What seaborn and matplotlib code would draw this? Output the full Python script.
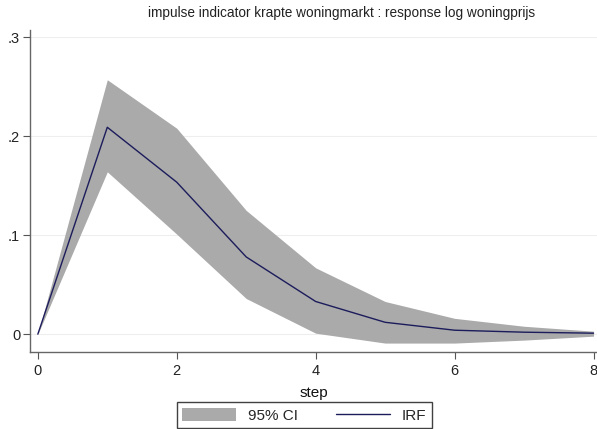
import matplotlib
matplotlib.use("Agg")
import matplotlib.pyplot as plt
import seaborn as sns
import pandas as pd
from matplotlib.patches import Patch
from matplotlib.lines import Line2D

steps = [0, 1, 2, 3, 4, 5, 6, 7, 8]
irf = [0.0, 0.209, 0.1535, 0.078, 0.033, 0.012, 0.004, 0.002, 0.001]
upper = [0.0, 0.257, 0.208, 0.125, 0.067, 0.033, 0.016, 0.008, 0.003]
lower = [0.0, 0.164, 0.101, 0.036, 0.001, -0.009, -0.009, -0.006, -0.002]
yticks = [0, 0.1, 0.2, 0.3]
ytick_labels = ["0", ".1", ".2", ".3"]
xticks = [0, 2, 4, 6, 8]

df = pd.DataFrame({"step": steps, "irf": irf, "upper": upper, "lower": lower})

sns.set_style("white")
plt.rcParams["font.family"] = ["Liberation Sans", "DejaVu Sans"]

fig = plt.figure(figsize=(5.97, 4.29), dpi=100)
ax = fig.add_axes([0.050, 0.1795, 0.95, 0.75])

ax.fill_between(df["step"], df["lower"], df["upper"], color="#aaaaaa", linewidth=0, zorder=2)
sns.lineplot(data=df, x="step", y="irf", ax=ax, color="#1c1c5c", linewidth=1.0, zorder=3)

ax.set_xlim(-0.115, 8.05)
ax.set_ylim(-0.018, 0.307)
ax.set_yticks(yticks)
ax.set_yticklabels(ytick_labels)
ax.set_xticks(xticks)
for y in yticks:
    ax.axhline(y, color="#eeeeee", linewidth=0.8, zorder=1)

ax.tick_params(axis="both", which="both", length=5, width=0.8, color="#555555",
               labelsize=10.5, labelcolor="#222222", direction="out", left=True, bottom=True)
ax.tick_params(axis="y", pad=2)
for side in ["top", "right"]:
    ax.spines[side].set_visible(False)
for side in ["left", "bottom"]:
    ax.spines[side].set_color("#666666")
    ax.spines[side].set_linewidth(1.0)

ax.set_xlabel("step", fontsize=11, color="#111111", labelpad=6)
ax.set_ylabel("")
fig.suptitle("impulse indicator krapte woningmarkt : response log woningprijs",
             x=0.572, y=0.985, fontsize=9.8, color="#222222")

handles = [Patch(facecolor="#aaaaaa", edgecolor="none"),
           Line2D([0], [0], color="#1c1c5c", linewidth=1.0)]
leg = fig.legend(handles, ["95% CI", "IRF"], loc="upper center", bbox_to_anchor=(0.51, 0.062),
                 ncol=2, frameon=True, fontsize=11, fancybox=False, handlelength=3.5,
                 columnspacing=2.5, borderpad=0.35, handleheight=1.0, borderaxespad=0)
leg.get_frame().set_edgecolor("#111111")
leg.get_frame().set_linewidth(1.0)

fig.savefig("out.png", dpi=100)
